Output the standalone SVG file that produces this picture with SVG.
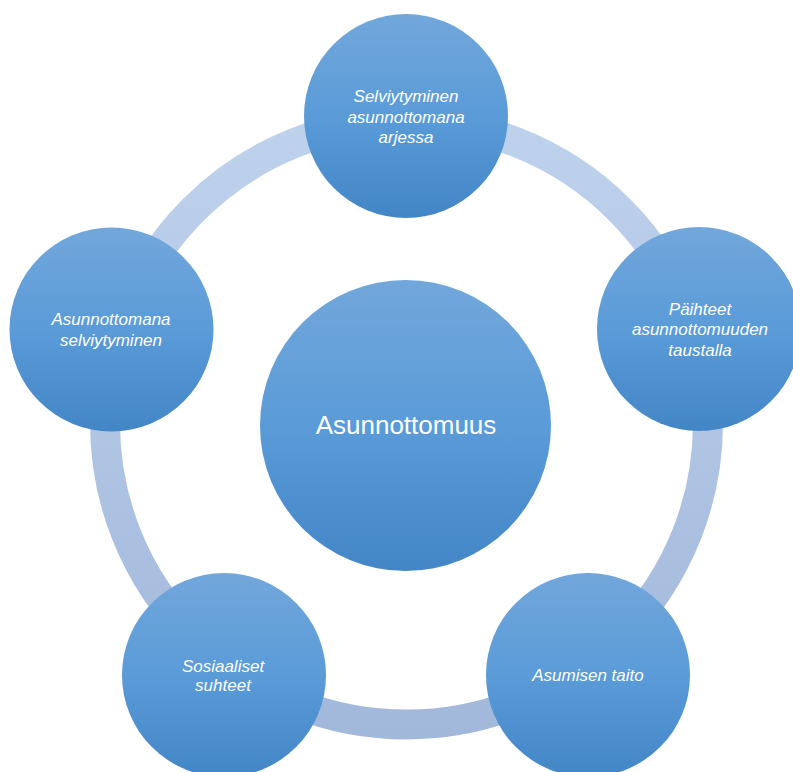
<svg xmlns="http://www.w3.org/2000/svg" width="793" height="772" viewBox="0 0 793 772">
<defs>
<linearGradient id="ringGrad" gradientUnits="userSpaceOnUse" x1="0" y1="110" x2="0" y2="740">
<stop offset="0" stop-color="#bfd2ed"/>
<stop offset="1" stop-color="#a2b8db"/>
</linearGradient>
<linearGradient id="nodeGrad" x1="0" y1="0" x2="0" y2="1">
<stop offset="0" stop-color="#72a7db"/>
<stop offset="0.5" stop-color="#5a9bd8"/>
<stop offset="1" stop-color="#4386c6"/>
</linearGradient>
<style>
.node{fill:url(#nodeGrad);}
.lbl{font-family:"Liberation Sans",Arial,sans-serif;font-style:italic;font-size:17px;fill:#ffffff;text-anchor:middle;}
.main{font-family:"Liberation Sans",Arial,sans-serif;font-size:26px;fill:#ffffff;text-anchor:middle;}
</style>
</defs>
<rect width="793" height="772" fill="#ffffff"/>
<g id="connectors">
<circle cx="406.5" cy="423" r="301.5" fill="none" stroke="url(#ringGrad)" stroke-width="30"/>
</g>
<g id="center">
<circle class="node" cx="405.5" cy="425.5" r="145.5"/>
<text class="main" x="406" y="434">Asunnottomuus</text>
</g>
<g id="top">
<circle class="node" cx="406" cy="116" r="102"/>
<text class="lbl" x="406" y="102">Selviytyminen</text>
<text class="lbl" x="406" y="123">asunnottomana</text>
<text class="lbl" x="406" y="143">arjessa</text>
</g>
<g id="right">
<circle class="node" cx="699" cy="329" r="102"/>
<text class="lbl" x="700" y="315">Päihteet</text>
<text class="lbl" x="700" y="335">asunnottomuuden</text>
<text class="lbl" x="700" y="356">taustalla</text>
</g>
<g id="bottom-right">
<circle class="node" cx="588" cy="675" r="102"/>
<text class="lbl" x="588" y="681">Asumisen taito</text>
</g>
<g id="bottom-left">
<circle class="node" cx="224" cy="675" r="102"/>
<text class="lbl" x="223" y="672">Sosiaaliset</text>
<text class="lbl" x="223" y="691">suhteet</text>
</g>
<g id="left">
<circle class="node" cx="111.5" cy="329.5" r="102"/>
<text class="lbl" x="111" y="325">Asunnottomana</text>
<text class="lbl" x="111" y="346">selviytyminen</text>
</g>
</svg>
